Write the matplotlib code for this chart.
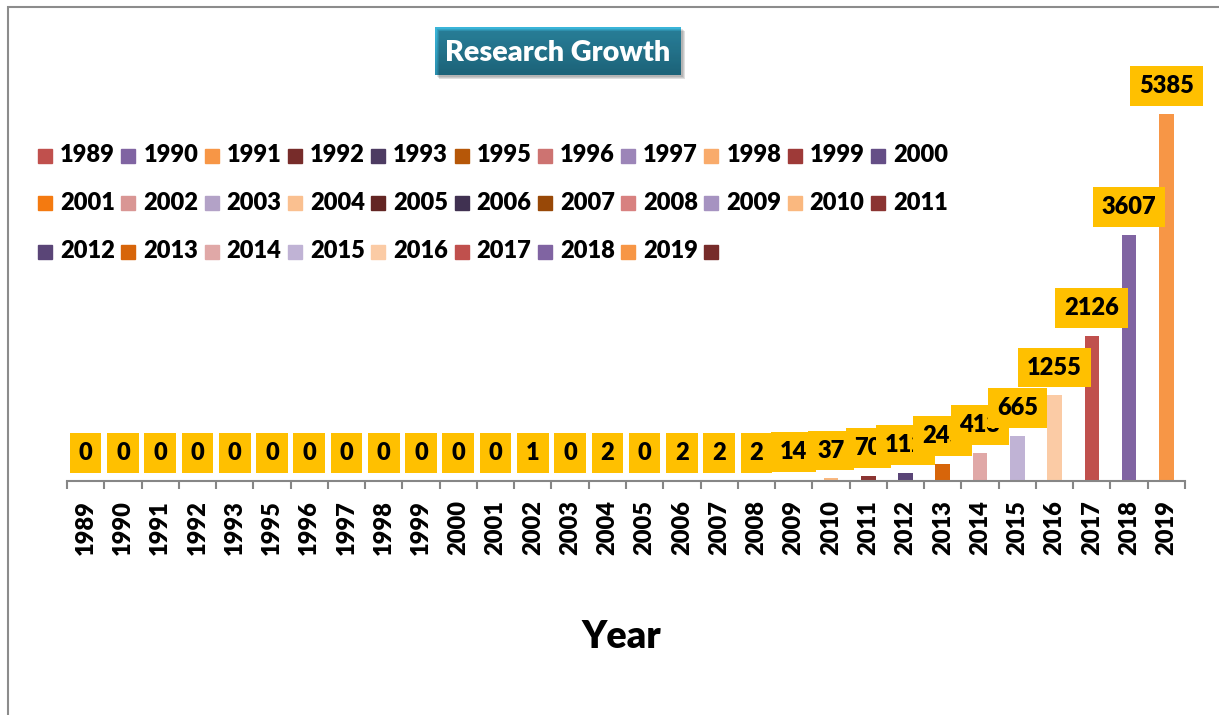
import matplotlib
matplotlib.use('Agg')
import matplotlib.pyplot as plt
from matplotlib.patches import Rectangle
import numpy as np

# ---------------- data ----------------
years = ['1989', '1990', '1991', '1992', '1993', '1995', '1996', '1997', '1998', '1999',
         '2000', '2001', '2002', '2003', '2004', '2005', '2006', '2007', '2008', '2009',
         '2010', '2011', '2012', '2013', '2014', '2015', '2016', '2017', '2018', '2019']
counts = [0, 0, 0, 0, 0, 0, 0, 0, 0, 0,
          0, 0, 1, 0, 2, 0, 2, 2, 2, 14,
          37, 70, 112, 245, 413, 665, 1255, 2126, 3607, 5385]
bar_colors = ['#C0504D', '#8064A2', '#F79646', '#772C2A', '#4D3B62', '#B65708',
              '#CD7371', '#9C85B8', '#F9AB6B', '#9E3A38', '#654E86', '#F47A10',
              '#D99694', '#B3A2C7', '#FAC090', '#632523', '#403151', '#984807',
              '#D88180', '#A693C1', '#FAB87F', '#8B3432', '#5A4577', '#D7650A',
              '#E0A8A7', '#C0B3D5', '#FBCBA5', '#C0504D', '#8064A2', '#F79646']
legend_labels = years + ['']
legend_colors = bar_colors + ['#772C2A']
title_text = 'Research Growth'
xlabel_text = 'Year'

# ---------------- figure ----------------
W, H = 1219, 715
fig = plt.figure(figsize=(W / 100, H / 100), dpi=100)
fig.patch.set_facecolor('white')


def fx(px):
    return px / W


def fy(py):
    return 1 - py / H


FONT = 'Lato'
WEIGHT = 'heavy'
renderer = fig.canvas.get_renderer()


def fit(text, target, weight=WEIGHT):
    t = fig.text(0, 0, text, fontsize=10, family=FONT, weight=weight)
    w = t.get_window_extent(renderer).width
    t.remove()
    return 10 * target / w


fs = fit('5385', 55)
title_fs = fit(title_text, 226)
year_fs = fit(xlabel_text, 80)

# outer border
fig.add_artist(Rectangle((fx(8), -0.1), 1.2, fy(7) + 0.1, transform=fig.transFigure,
                         fill=False, ec='#8C8C8C', lw=1.5))

# ---------------- axes / bars ----------------
ax = fig.add_axes([fx(67), fy(481), fx(1185) - fx(67), (481 - 60) / H])
ax.patch.set_alpha(0)
x = np.arange(len(years))
ymax = counts[-1] * (481 - 60) / (481 - 114)
ax.bar(x, counts, width=0.39, color=bar_colors, zorder=2)
ax.set_xlim(-0.5, len(years) - 0.5)
ax.set_ylim(0, ymax)
for s in ['top', 'right', 'left']:
    ax.spines[s].set_visible(False)
ax.spines['bottom'].set_color('#868686')
ax.spines['bottom'].set_linewidth(1.5)
ax.set_yticks([])
ax.set_xticks(x)
ax.set_xticklabels(years, rotation=90, fontsize=fs, fontweight=WEIGHT, family=FONT)
ax.tick_params(axis='x', which='major', length=0, pad=19 * 0.72)
ax.set_xticks(np.arange(-0.5, len(years)), minor=True)
ax.tick_params(axis='x', which='minor', length=8 * 0.72, color='#868686', width=1.5,
               direction='out')

pad_frac = 0.38
off_pt = 8 * 0.72 + pad_frac * fs
for i, (xi, v) in enumerate(zip(x, counts)):
    ax.annotate(str(v), xy=(xi, v), xytext=(0, off_pt), textcoords='offset points',
                ha='center', va='bottom', fontsize=fs, fontweight=WEIGHT, family=FONT,
                bbox=dict(boxstyle='square,pad=%.2f' % pad_frac, fc='#FFC000', ec='none'),
                zorder=10 + i, annotation_clip=False)

# ---------------- legend ----------------
for i, (lab, col) in enumerate(zip(legend_labels, legend_colors)):
    r, c = divmod(i, 11)
    px = 38 + 83.3 * c
    py = 155.5 + 48 * r
    fig.add_artist(Rectangle((fx(px), fy(py + 7)), 14 / W, 14 / H,
                             transform=fig.transFigure, color=col))
    fig.text(fx(px + 22), fy(py), lab, va='center', ha='left', fontsize=fs,
             fontweight=WEIGHT, family=FONT)

# ---------------- title box ----------------
for k, a in enumerate([0.10, 0.10, 0.12]):
    d = 2 + k
    fig.add_artist(Rectangle((fx(435 + d), fy(75 + d)), 246 / W, 48 / H,
                             transform=fig.transFigure, color='#000000', alpha=a, lw=0))
tax = fig.add_axes([fx(435), fy(75), 246 / W, 48 / H])
grad = np.linspace(0, 1, 100).reshape(-1, 1)
top = np.array([0x3B, 0xB6, 0xDA]) / 255
bot = np.array([0x2A, 0x8D, 0xAC]) / 255
img = top[None, None, :] * (1 - grad[:, :, None]) + bot[None, None, :] * grad[:, :, None]
tax.imshow(img, aspect='auto', extent=[0, 1, 0, 1])
tax.set_axis_off()
fig.text(fx(558), fy(53), title_text, ha='center', va='center', color='white',
         fontsize=title_fs, fontweight=WEIGHT, family=FONT)

# x-axis title
fig.text(fx(621), fy(637), xlabel_text, ha='center', va='center', fontsize=year_fs,
         fontweight=WEIGHT, family=FONT)

fig.savefig('out.png', dpi=100)
